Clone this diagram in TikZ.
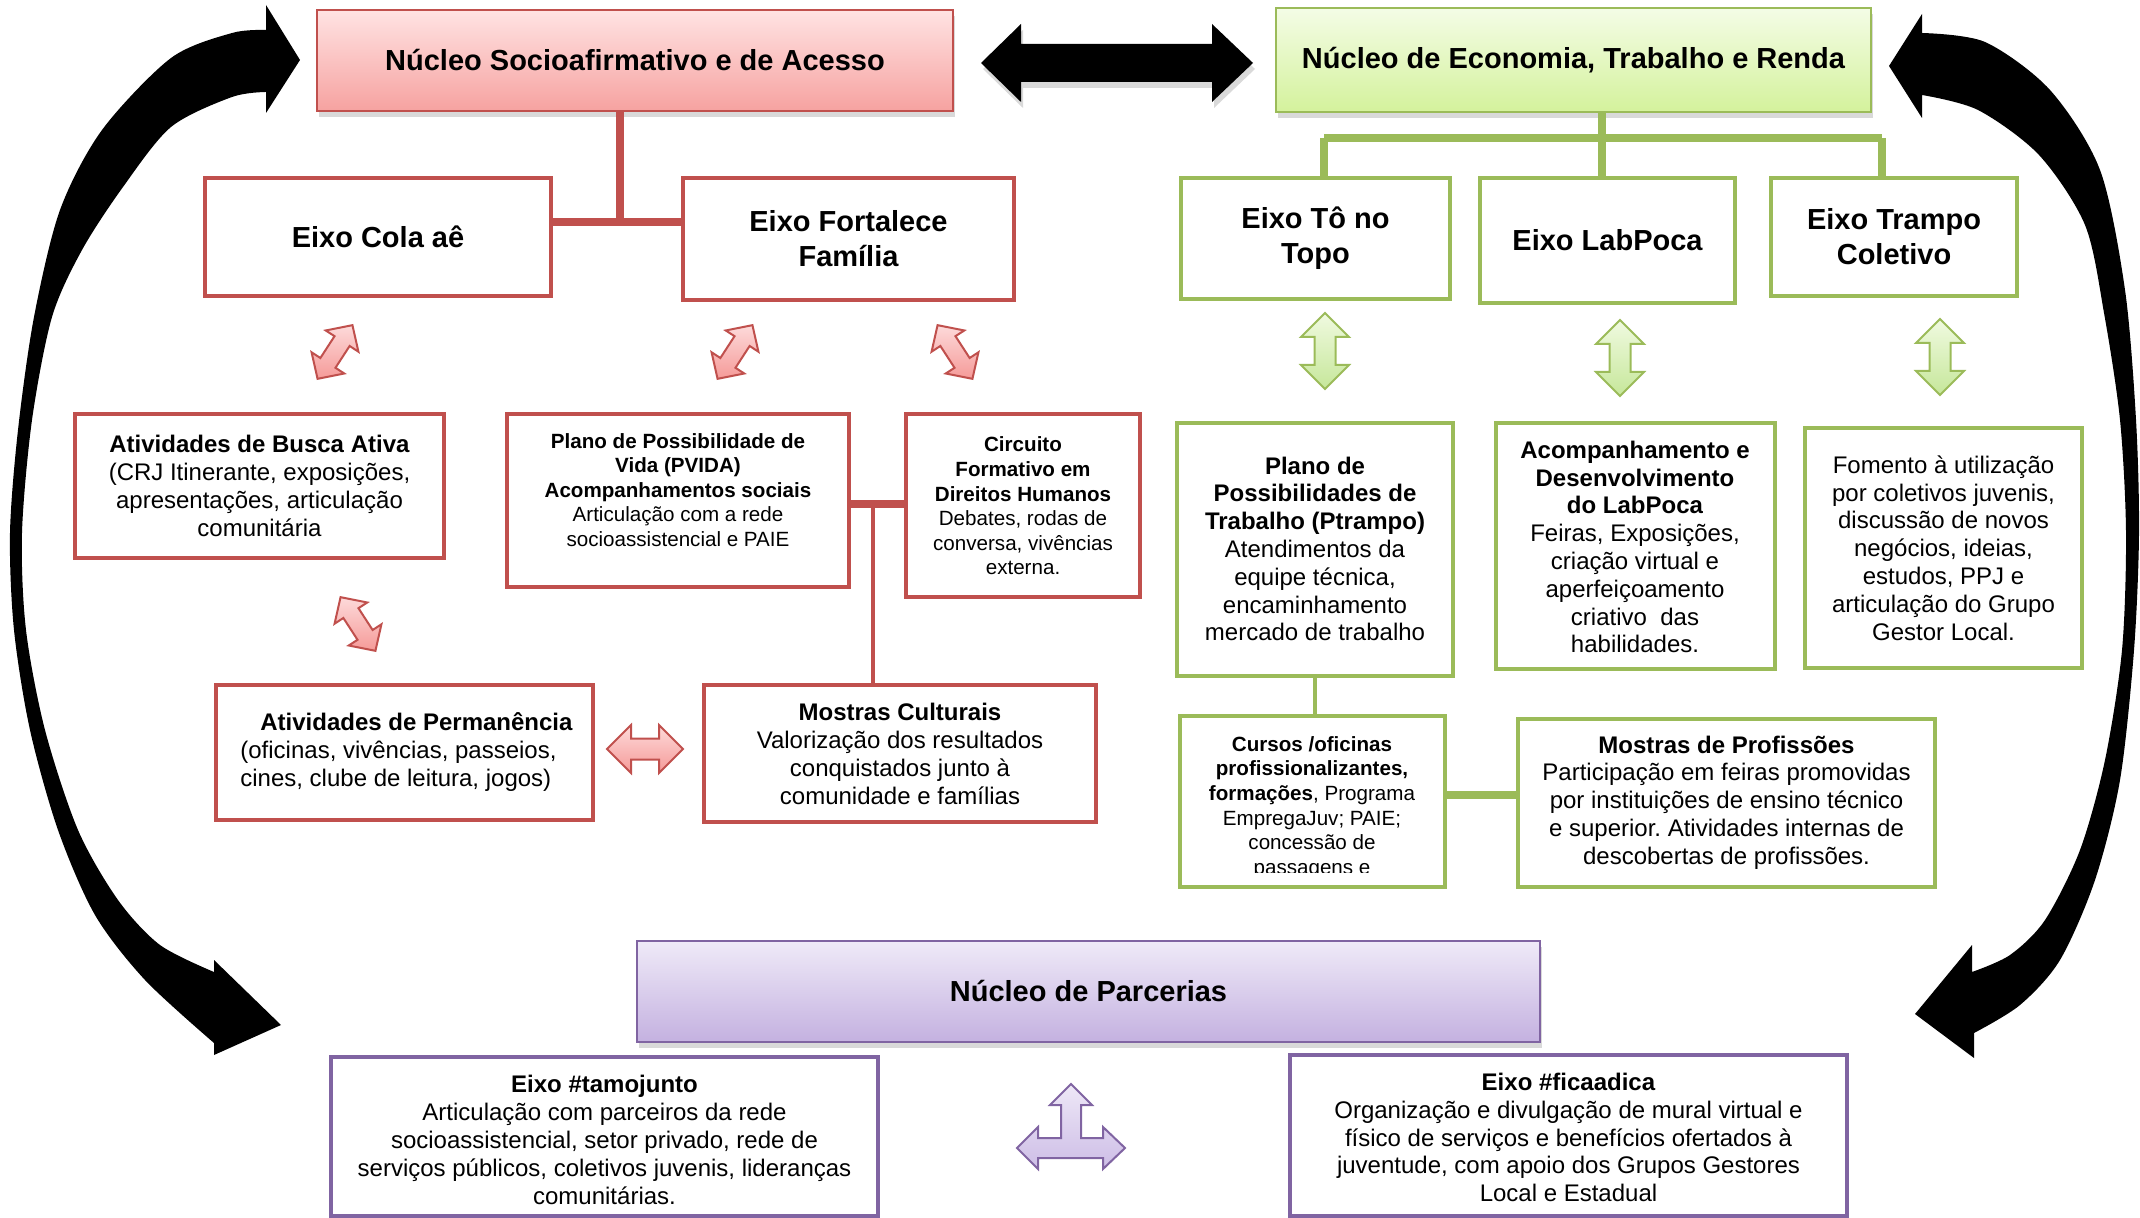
\documentclass[tikz,border=0pt]{standalone}
\usepackage{fontspec}
\setmainfont{Liberation Sans}
\usetikzlibrary{fit,shadows}
\definecolor{rd}{HTML}{C0504D}
\definecolor{gr}{HTML}{9BBB59}
\definecolor{pu}{HTML}{8064A2}
\definecolor{nrTop}{HTML}{FFE3E3}
\definecolor{nrBot}{HTML}{F6A2A0}
\definecolor{ngTop}{HTML}{F4FCE6}
\definecolor{ngBot}{HTML}{D4F29C}
\definecolor{npTop}{HTML}{EFEAF8}
\definecolor{npBot}{HTML}{C4B1E0}
\definecolor{pkTop}{HTML}{FDDADA}
\definecolor{pkBot}{HTML}{F59A98}
\definecolor{lgTop}{HTML}{F0FAE0}
\definecolor{lgBot}{HTML}{C6E79A}
\definecolor{lpTop}{HTML}{EEE8F7}
\definecolor{lpBot}{HTML}{CDBDE6}
\newcommand\FTitle{\fontsize{14.5}{17.5}\selectfont\bfseries}
\newcommand\FBody{\fontsize{12}{13.9}\selectfont}
\newcommand\FSmall{\fontsize{10.3}{12.3}\selectfont}
\frenchspacing
\begin{document}
\begin{tikzpicture}[x=0.5pt,y=-0.5pt,
  box/.style={draw, line width=2.2pt, fill=white, inner sep=0pt},
  rbox/.style={box, draw=rd},
  gbox/.style={box, draw=gr},
  pbox/.style={box, draw=pu},
  nuc/.style={draw, line width=1.2pt, inner sep=0pt,
    drop shadow={opacity=0.3, shadow xshift=1pt, shadow yshift=-3pt}},
  txt/.style={align=center, inner sep=0pt, font=\FBody},
  stxt/.style={align=center, inner sep=0pt, font=\FSmall},
  ttl/.style={align=center, inner sep=0pt, font=\FTitle},
  rline/.style={draw=rd, line width=4pt},
  rthin/.style={draw=rd, line width=2pt},
  gline/.style={draw=gr, line width=3.8pt},
  gthin/.style={draw=gr, line width=2pt},
  dblbig/.pic={\path[pic actions] (-38,0) -- (-14,-24) -- (-14,-10.5) -- (14,-10.5) -- (14,-24) -- (38,0) -- (14,24) -- (14,10.5) -- (-14,10.5) -- (-14,24) -- cycle;},
  dblsmall/.pic={\path[pic actions] (-32,0) -- (-13,-19.5) -- (-13,-9) -- (13,-9) -- (13,-19.5) -- (32,0) -- (13,19.5) -- (13,9) -- (-13,9) -- (-13,19.5) -- cycle;},
  pinkarrow/.style={draw=rd, line width=1pt, top color=pkTop, bottom color=pkBot},
  greenarrow/.style={draw=gr, line width=1pt, top color=lgTop, bottom color=lgBot},
]
\useasboundingbox (0,0) rectangle (2140,1218);

% ---------- big curved arrows ----------
\fill[black] (300,60) -- (266,5) -- plot[smooth] coordinates {(266,30) (232,33) (171,58) (102,130) (60,210) (34,317) (18,430) (10,533) (14,630) (30,730) (58,830) (95,915) (145,980) (214,1043)}
  -- (214,1055) -- (281,1025) -- (214,960)
  -- plot[smooth] coordinates {(214,972) (160,945) (118,900) (78,830) (45,730) (26,630) (22,533) (32,420) (52,317) (82,250) (123,187) (171,127) (232,97) (266,92)}
  -- (266,113) -- cycle;
\fill[black] (1889,66) -- (1922,14) -- plot[smooth] coordinates {(1922,33) (1985,42) (2050,90) (2100,170) (2125,290) (2136,420) (2139,533) (2134,650) (2120,780) (2095,880) (2060,960) (2020,1005) (1974,1033)}
  -- (1974,1058) -- (1915,1014) -- (1972,945)
  -- plot[smooth] coordinates {(1972,972) (2010,955) (2045,920) (2080,850) (2105,760) (2122,650) (2126,533) (2120,420) (2104,313) (2085,225) (2039,155) (1978,110) (1922,95)}
  -- (1922,118) -- cycle;

% ---------- Núcleos ----------
\node[nuc, draw=rd, top color=nrTop, bottom color=nrBot, fit={(317,10) (953,111)}] (nucS) {};
\node[ttl] (nucS-t) at (nucS) {Núcleo Socioafirmativo e de Acesso};
\node[nuc, draw=gr, top color=ngTop, bottom color=ngBot, fit={(1276,8) (1871,112)}] (nucE) {};
\node[ttl] (nucE-t) at (nucE) {Núcleo de Economia, Trabalho e Renda};
\node[nuc, draw=pu, top color=npTop, bottom color=npBot, fit={(637,941) (1540,1042)}] (nucP) {};
\node[ttl] (nucP-t) at (nucP) {Núcleo de Parcerias};

% black double arrow between the two núcleos
\fill[black, drop shadow={opacity=0.3, shadow xshift=1pt, shadow yshift=-3pt}] (981,63) -- (1021,24) -- (1021,44) -- (1212,44) -- (1212,24) -- (1253,63) -- (1212,102) -- (1212,82) -- (1021,82) -- (1021,102) -- cycle;

% ---------- red side ----------
\node[rbox, fit={(205,178) (551,296)}] (cola) {};
\node[ttl] (cola-t) at (cola) {Eixo Cola aê};
\node[rbox, fit={(683,178) (1014,300)}] (fort) {};
\node[ttl] (fort-t) at (fort) {Eixo Fortalece\\Família};

\node[rbox, fit={(75,414) (444,558)}] (busca) {};
\node[txt] (busca-t) at (259.5,486) {\textbf{Atividades de Busca Ativa}\\(CRJ Itinerante, exposições,\\apresentações, articulação\\comunitária};
\node[rbox, fit={(507,414) (849,587)}] (pvida) {};
\node[stxt] (pvida-t) at (678,490) {\textbf{Plano de Possibilidade de}\\\textbf{Vida (PVIDA)}\\\textbf{Acompanhamentos sociais}\\Articulação com a rede\\socioassistencial e PAIE};
\node[rbox, fit={(906,414) (1140,597)}] (circ) {};
\node[stxt] (circ-t) at (1023,506) {\textbf{Circuito}\\\textbf{Formativo em}\\\textbf{Direitos Humanos}\\Debates, rodas de\\conversa, vivências\\externa.};
\node[rbox, fit={(216,685) (593,820)}] (perm) {};
\node[txt, align=left, anchor=west] (perm-t) at (240,752) {\hspace*{10pt}\textbf{Atividades de Permanência}\\(oficinas, vivências, passeios,\\cines, clube de leitura, jogos)};
\node[rbox, fit={(704,685) (1096,822)}] (mcult) {};
\node[txt] (mcult-t) at (900,754) {\textbf{Mostras Culturais}\\Valorização dos resultados\\conquistados junto à\\comunidade e famílias};

\coordinate (j1) at (620,222);
\draw[rline] (nucS.south -| j1) -- (j1);
\draw[rline] (cola.east |- j1) -- (fort.west |- j1);
\coordinate (j2) at (873,504);
\draw[rline] (pvida.east |- j2) -- (circ.west |- j2);
\draw[rthin] (j2) -- (mcult.north -| j2);

\pic[pinkarrow, rotate=57] at (335,352) {dblsmall};
\pic[pinkarrow, rotate=57] at (735,352) {dblsmall};
\pic[pinkarrow, rotate=-57] at (955,352) {dblsmall};
\pic[pinkarrow, rotate=-57] at (358,624) {dblsmall};
\pic[pinkarrow] at (645,749) {dblbig};

% ---------- green side ----------
\node[gbox, fit={(1181,178) (1450,299)}] (topo) {};
\node[ttl] (topo-t) at (topo) {Eixo Tô no\\Topo};
\node[gbox, fit={(1480,178) (1735,303)}] (lab) {};
\node[ttl] (lab-t) at (lab) {Eixo LabPoca};
\node[gbox, fit={(1771,178) (2017,296)}] (trampo) {};
\node[ttl] (trampo-t) at (trampo) {Eixo Trampo\\Coletivo};

\coordinate (gL) at (1324,138);
\coordinate (gM) at (1602,138);
\coordinate (gR) at (1882,138);
\draw[gline] (gL) -- (gR);
\draw[gline] (nucE.south -| gM) -- (lab.north -| gM);
\draw[gline] (gL) -- (topo.north -| gL);
\draw[gline] (gR) -- (trampo.north -| gR);

\node[gbox, fit={(1177,423) (1453,676)}] (ptr) {};
\node[txt] (ptr-t) at (1315,549) {\textbf{Plano de}\\\textbf{Possibilidades de}\\\textbf{Trabalho (Ptrampo)}\\Atendimentos da\\equipe técnica,\\encaminhamento\\mercado de trabalho};
\node[gbox, fit={(1496,423) (1775,669)}] (acomp) {};
\node[txt] (acomp-t) at (1635,547) {\textbf{Acompanhamento e}\\\textbf{Desenvolvimento}\\\textbf{do LabPoca}\\Feiras, Exposições,\\criação virtual e\\aperfeiçoamento\\criativo\ \ das\\habilidades.};
\node[gbox, fit={(1805,428) (2082,668)}] (fom) {};
\node[txt] (fom-t) at (1943.5,548) {Fomento à utilização\\por coletivos juvenis,\\discussão de novos\\negócios, ideias,\\estudos, PPJ e\\articulação do Grupo\\Gestor Local.};

\node[gbox, fit={(1180,716) (1445,887)}] (cursos) {};
\begin{scope}
\clip (1184,720) rectangle (1441,872);
\node[stxt, anchor=north] (cursos-t) at (1312,736) {\textbf{Cursos /oficinas}\\\textbf{profissionalizantes,}\\\textbf{formações}, Programa\\EmpregaJuv; PAIE;\\concessão de\\passagens e};
\end{scope}
\node[gbox, fit={(1518,719) (1935,887)}] (mprof) {};
\node[txt] (mprof-t) at (1726.5,802.5) {\textbf{Mostras de Profissões}\\Participação em feiras promovidas\\por instituições de ensino técnico\\e superior. Atividades internas de\\descobertas de profissões.};

\coordinate (g3) at (1480,795);
\draw[gthin] (ptr.south) -- (ptr.south |- cursos.north);
\draw[gline] (cursos.east |- g3) -- (mprof.west |- g3);

\pic[greenarrow, rotate=90] at (1325,351) {dblbig};
\pic[greenarrow, rotate=90] at (1620,358) {dblbig};
\pic[greenarrow, rotate=90] at (1940,357) {dblbig};

% ---------- purple side ----------
\node[pbox, fit={(331,1057) (878,1216)}] (tamo) {};
\node[txt] (tamo-t) at (604.5,1140) {\textbf{Eixo \#tamojunto}\\Articulação com parceiros da rede\\socioassistencial, setor privado, rede de\\serviços públicos, coletivos juvenis, lideranças\\comunitárias.};
\node[pbox, fit={(1290,1055) (1847,1216)}] (fica) {};
\node[txt] (fica-t) at (1568.5,1137.5) {\textbf{Eixo \#ficaadica}\\Organização e divulgação de mural virtual e\\físico de serviços e benefícios ofertados à\\juventude, com apoio dos Grupos Gestores\\Local e Estadual};

\path[draw=pu, line width=1pt, top color=lpTop, bottom color=lpBot]
  (1071,1084) -- (1092,1105) -- (1081,1105) -- (1081,1138) -- (1103,1138) -- (1103,1127) -- (1125,1148) -- (1103,1169) -- (1103,1158) -- (1038,1158) -- (1038,1169) -- (1017,1148) -- (1038,1127) -- (1038,1138) -- (1061,1138) -- (1061,1105) -- (1050,1105) -- cycle;
\end{tikzpicture}
\end{document}
